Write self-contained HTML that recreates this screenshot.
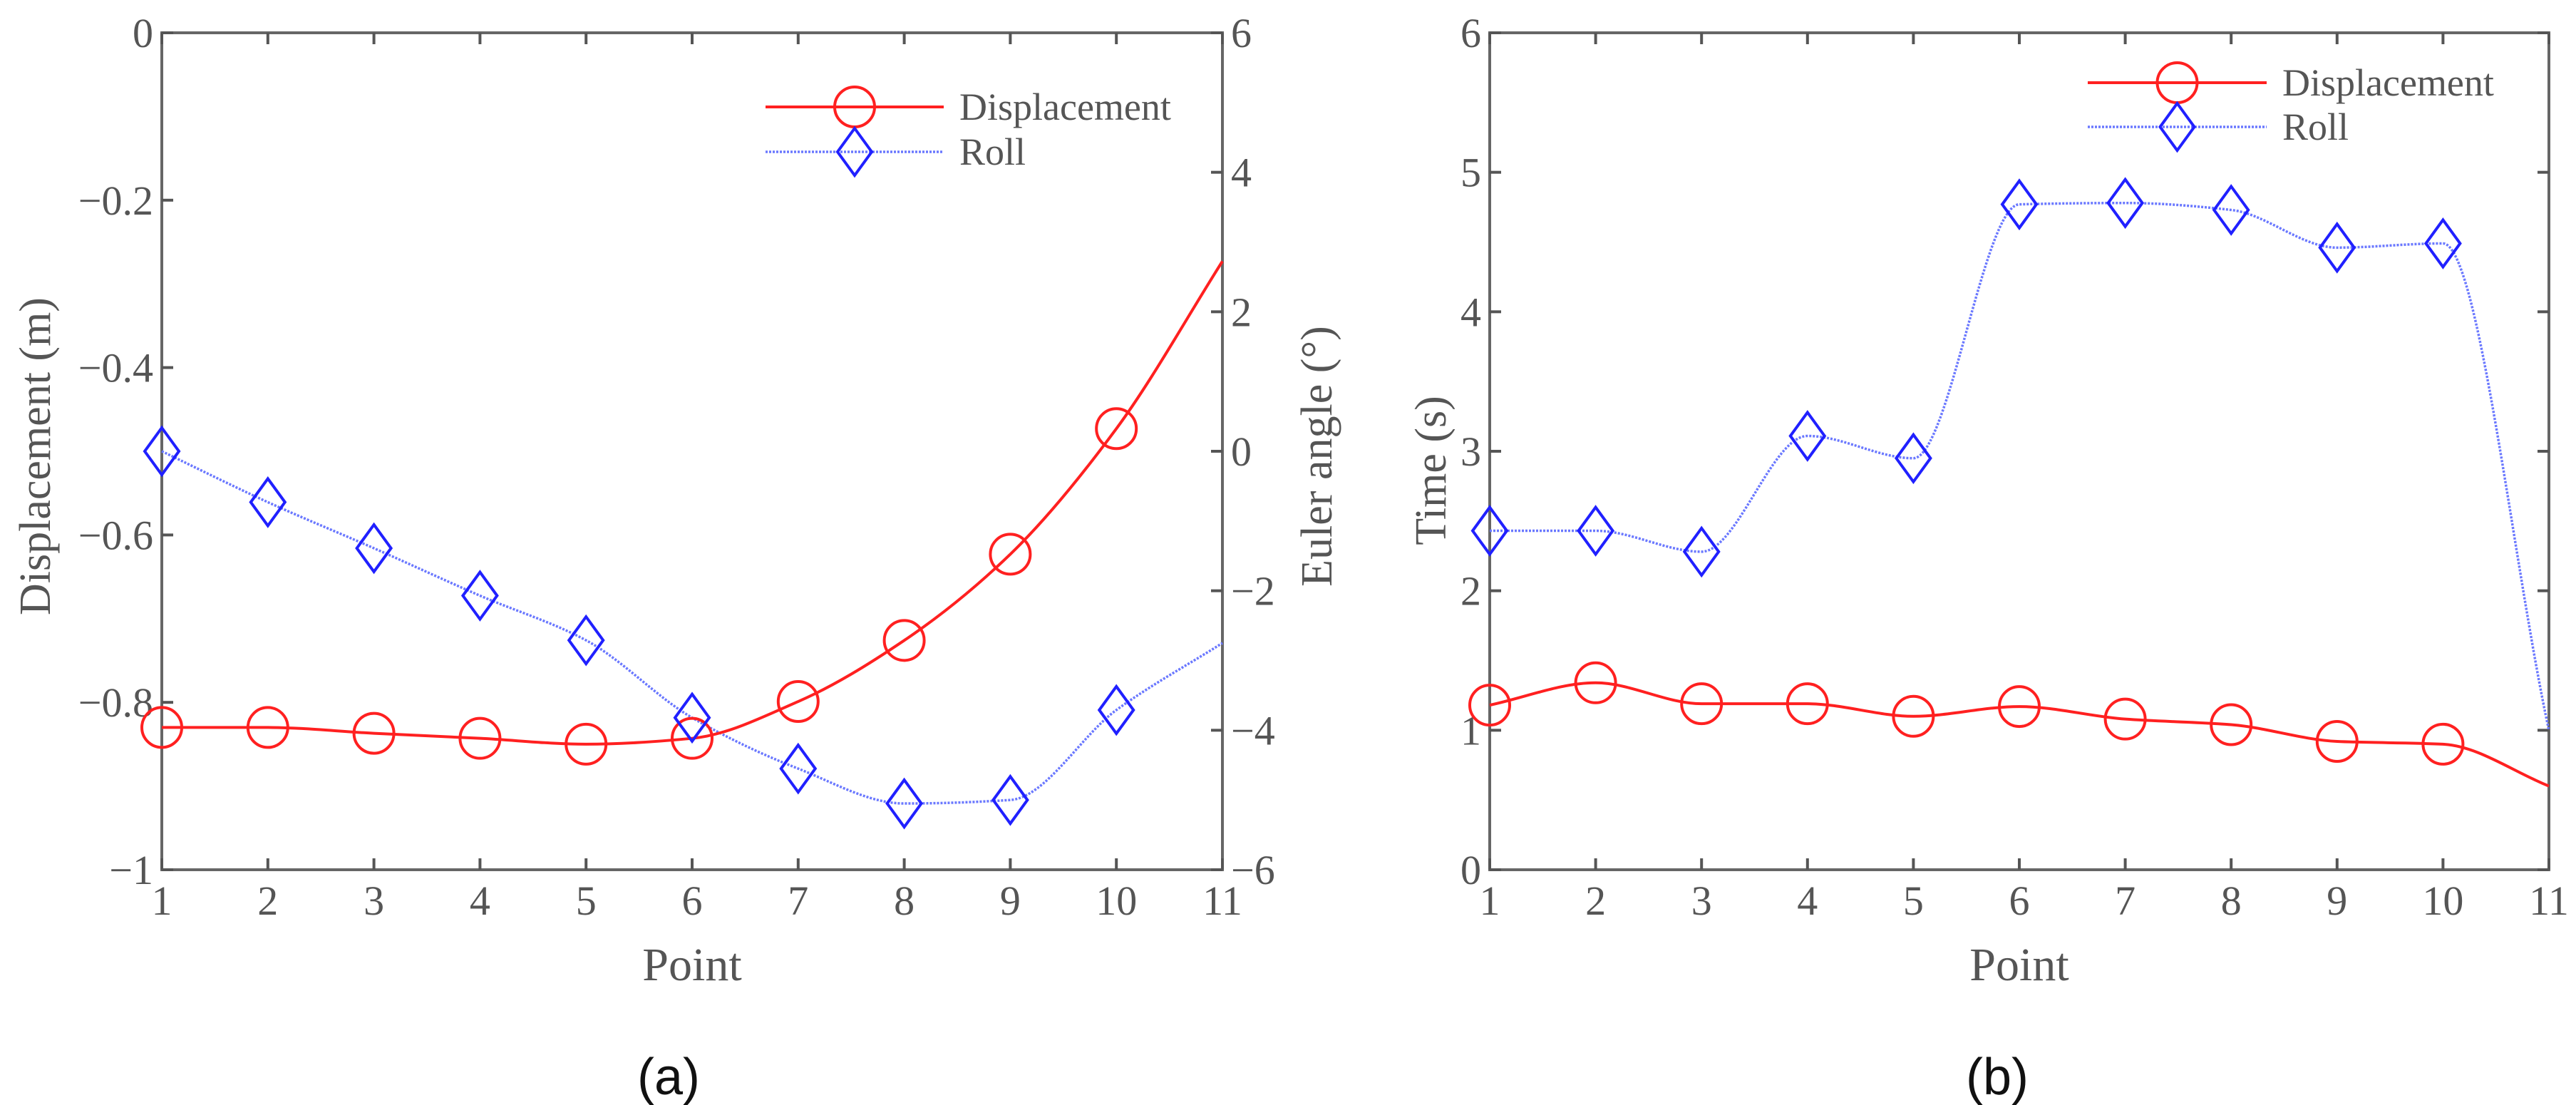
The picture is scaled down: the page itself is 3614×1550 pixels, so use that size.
<!DOCTYPE html>
<html><head><meta charset="utf-8"><style>
html,body{margin:0;padding:0;background:#fff;}
svg{display:block;}
text{font-family:"Liberation Serif",serif;fill:#555;}
</style></head><body>
<svg id="fig" width="3614" height="1550" viewBox="0 0 3614 1550" xmlns="http://www.w3.org/2000/svg"></svg>
<script>
const points = [1,2,3,4,5,6,7,8,9,10,11];
const dispA = [-0.830,-0.830,-0.837,-0.843,-0.850,-0.843,-0.799,-0.726,-0.623,-0.473,-0.273];
const rollA = [0.0,-0.73,-1.39,-2.07,-2.71,-3.82,-4.55,-5.05,-5.0,-3.71,-2.75];
const dispB = [1.18,1.34,1.19,1.19,1.10,1.17,1.08,1.04,0.92,0.90,0.60];
const rollB = [2.43,2.43,2.28,3.11,2.95,4.77,4.78,4.73,4.46,4.49,1.0];
const leftTicksA = [0,-0.2,-0.4,-0.6,-0.8,-1];
const leftTickLabelsA = ["0","\u22120.2","\u22120.4","\u22120.6","\u22120.8","\u22121"];
const rightTicksA = [6,4,2,0,-2,-4,-6];
const rightTickLabelsA = ["6","4","2","0","\u22122","\u22124","\u22126"];
const ticksB = [0,1,2,3,4,5,6];

const NS="http://www.w3.org/2000/svg";
const svg=document.getElementById('fig');
function el(tag,attrs,parent){const e=document.createElementNS(NS,tag);for(const k in attrs)e.setAttribute(k,attrs[k]);(parent||svg).appendChild(e);return e;}
function txt(s,attrs,parent){const e=el('text',attrs,parent);e.textContent=s;return e;}
// monotone cubic (pchip-like) path
function smooth(pts){const n=pts.length;const h=[],dl=[];for(let i=0;i<n-1;i++){h.push(pts[i+1][0]-pts[i][0]);dl.push((pts[i+1][1]-pts[i][1])/h[i]);}
const m=new Array(n);m[0]=dl[0];m[n-1]=dl[n-2];
for(let i=1;i<n-1;i++){if(dl[i-1]*dl[i]<=0)m[i]=0;else{const w1=2*h[i]+h[i-1],w2=h[i]+2*h[i-1];m[i]=(w1+w2)/(w1/dl[i-1]+w2/dl[i]);}}
let d=`M${pts[0][0]},${pts[0][1]}`;
for(let i=0;i<n-1;i++){const x0=pts[i][0],y0=pts[i][1],x1=pts[i+1][0],y1=pts[i+1][1],hh=h[i];
d+=` C${x0+hh/3},${y0+m[i]*hh/3} ${x1-hh/3},${y1-m[i+1]*hh/3} ${x1},${y1}`;}return d;}
const T=46,B=1220;
function circle(g,x,y){const c=el('circle',{cx:x,cy:y,r:28,fill:'none',stroke:'#ff2020','stroke-width':4},g);

}
function diamond(g,x,y){const p=el('path',{d:`M${x},${y-33} L${x+24},${y} L${x},${y+33} L${x-24},${y} Z`,fill:'none',stroke:'#2020ff','stroke-width':4},g);

}

function panel(name,L,R,yLeft,yRight,d1,d2,opts){
  const g=el('g',{});
  
  
  const xs=v=>L+(v-1)*(R-L)/10;
  const box=el('rect',{x:L,y:T,width:R-L,height:B-T,fill:'none',stroke:'#666','stroke-width':4},g);
  
  
  points.forEach(p=>{const x=xs(p);
    el('line',{x1:x,y1:B,x2:x,y2:B-16,stroke:'#555','stroke-width':4},g);
    el('line',{x1:x,y1:T,x2:x,y2:T+16,stroke:'#555','stroke-width':4},g);
    const t=txt(String(p),{x:x,y:1283,'font-size':58,'text-anchor':'middle'},g);
    
    });
  const xt=txt('Point',{x:(L+R)/2,y:1375,'font-size':66,'text-anchor':'middle'},g);
  
  
  yLeft.ticks.forEach((v,i)=>{const y=yLeft.s(v);
    el('line',{x1:L,y1:y,x2:L+16,y2:y,stroke:'#555','stroke-width':4},g);
    if(!yRight) el('line',{x1:R,y1:y,x2:R-16,y2:y,stroke:'#555','stroke-width':4},g);
    const t=txt(yLeft.labels[i],{x:L-12,y:y+20,'font-size':58,'text-anchor':'end'},g);
    
    });
  if(yRight){yRight.ticks.forEach((v,i)=>{const y=yRight.s(v);
    el('line',{x1:R,y1:y,x2:R-16,y2:y,stroke:'#555','stroke-width':4},g);
    const t=txt(yRight.labels[i],{x:R+12,y:y+20,'font-size':58,'text-anchor':'start'},g);
    
    });}
  const p2=d2.vals.map((v,i)=>[xs(points[i]),d2.s(v)]);
  const l2=el('path',{d:smooth(p2),fill:'none',stroke:'#6a78ff','stroke-width':3.5,'stroke-dasharray':'3 2'},g);
  
  
  const p1=d1.vals.map((v,i)=>[xs(points[i]),d1.s(v)]);
  const l1=el('path',{d:smooth(p1),fill:'none',stroke:'#ff2020','stroke-width':4},g);
  
  
  p1.slice(0,10).forEach(p=>circle(g,p[0],p[1]));
  p2.slice(0,10).forEach(p=>diamond(g,p[0],p[1]));
  const lg=el('g',{},g);
  
  
  const o=opts.leg;
  el('line',{x1:o.x1,y1:o.y1,x2:o.x2,y2:o.y1,stroke:'#ff2020','stroke-width':4},lg);
  circle(lg,(o.x1+o.x2)/2,o.y1);
  el('line',{x1:o.x1,y1:o.y2,x2:o.x2,y2:o.y2,stroke:'#6a78ff','stroke-width':3.5,'stroke-dasharray':'3 2'},lg);
  diamond(lg,(o.x1+o.x2)/2,o.y2);
  const a=txt('Displacement',{x:o.x2+22,y:o.y1+18,'font-size':54},lg);
  
  
  const b=txt('Roll',{x:o.x2+22,y:o.y2+18,'font-size':54},lg);
  
  
  return g;
}
const sA=v=>T+(0-v)*(B-T)/1;
const sAR=v=>T+(6-v)*(B-T)/12;
const sB=v=>B-v*(B-T)/6;
panel('panel-a',227,1715,{ticks:leftTicksA,labels:leftTickLabelsA,s:sA},{ticks:rightTicksA,labels:rightTickLabelsA,s:sAR},
  {vals:dispA,s:sA},{vals:rollA,s:sAR},{leg:{x1:1074,x2:1324,y1:150,y2:213}});
panel('panel-b',2090,3576,{ticks:ticksB,labels:ticksB.map(String),s:sB},null,
  {vals:dispB,s:sB},{vals:rollB,s:sB},{leg:{x1:2929,x2:3180,y1:116,y2:178}});

function rot(s,x,y,name){const t=txt(s,{x:x,y:y,'font-size':62,'text-anchor':'middle',transform:`rotate(-90 ${x} ${y})`});

}
rot('Displacement (m)',70,640,'y-axis-title-displacement');
rot('Euler angle (\u00b0)',1868,640,'y-axis-title-euler-angle');
rot('Time (s)',2028,660,'y-axis-title-time');
const ca=txt('(a)',{x:938,y:1535,'font-size':72,'text-anchor':'middle',style:'font-family:"Liberation Sans",sans-serif;fill:#111'});


const cb=txt('(b)',{x:2802,y:1535,'font-size':72,'text-anchor':'middle',style:'font-family:"Liberation Sans",sans-serif;fill:#111'});


</script>
</body></html>
